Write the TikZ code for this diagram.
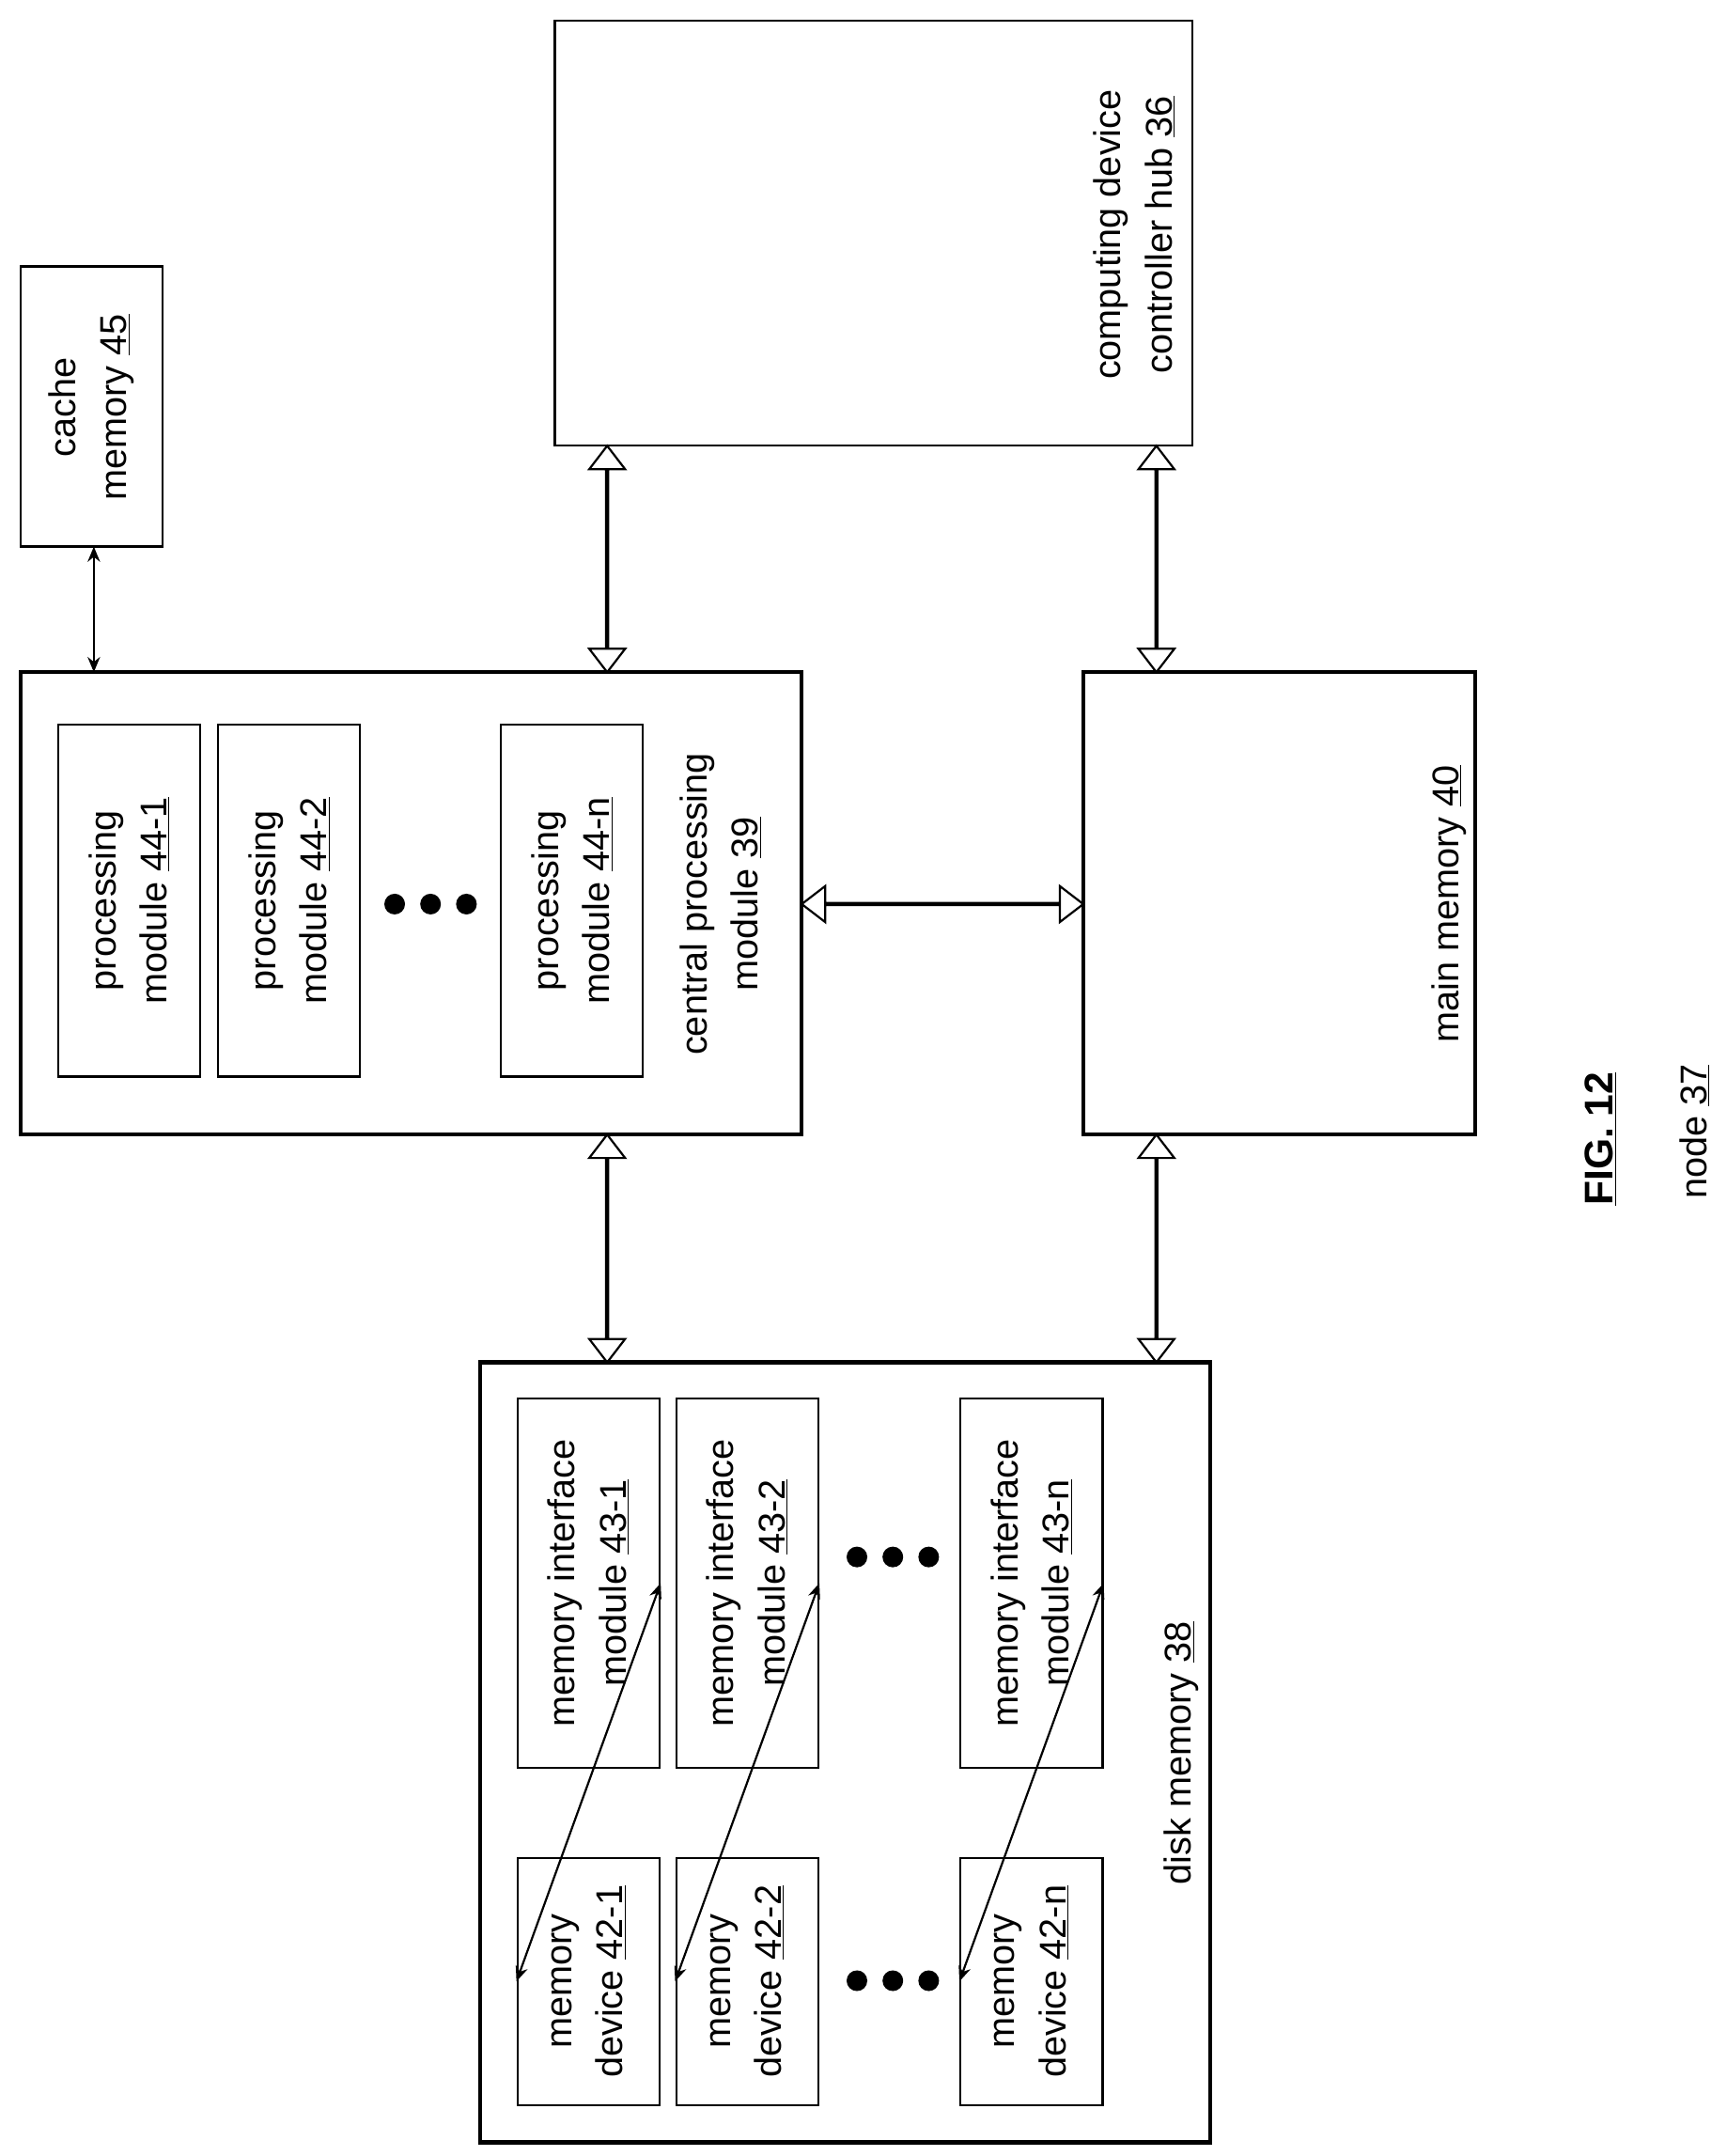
\documentclass[tikz,border=0pt]{standalone}
\usepackage{fontspec}
\setmainfont{Liberation Sans}
\usetikzlibrary{shapes.arrows,arrows.meta}
\begin{document}
\begin{tikzpicture}[x=1pt,y=-1pt,
  thin box/.style={draw,line width=1.5pt,inner sep=0pt},
  thick box/.style={draw,line width=3pt,inner sep=0pt},
  lbl/.style={rotate=90,align=center,font=\fontsize{27}{37}\selectfont},
  big/.style={double arrow,draw,line width=1.5pt,minimum width=26pt,double arrow head extend=12pt,double arrow tip angle=75,inner sep=0pt},
  small/.style={{Stealth[length=11pt,width=9pt]}-{Stealth[length=11pt,width=9pt]},line width=1.5pt},
  dot/.style={circle,fill,inner sep=0pt,minimum size=15pt}]
\useasboundingbox (0,0) rectangle (1251,1562);
\newcommand\bx[6]{\node[#1,minimum width={#4-#2},minimum height={#5-#3}] (#6) at ({(#2+#4)/2},{(#3+#5)/2}) {};}
% boxes
\bx{thin box}{15}{193}{118}{396}{cache}
\node[lbl] at (66,295) {cache\\memory \underline{45}};
\bx{thin box}{402}{15}{864}{323}{hub}
\node[lbl] at (822,170) {computing device\\controller hub \underline{36}};
\bx{thick box}{15}{487}{581}{822}{cpu}
\node[lbl] at (522,655) {central processing\\module \underline{39}};
\bx{thin box}{42}{525}{145}{780}{p1}
\bx{thin box}{158}{525}{261}{780}{p2}
\bx{thin box}{363}{525}{466}{780}{pn}
\node[lbl] at (p1) {processing\\module \underline{44-1}};
\node[lbl] at (p2) {processing\\module \underline{44-2}};
\node[lbl] at (pn) {processing\\module \underline{44-n}};
\node[dot] (d1) at (286,655) {}; \node[dot] (d2) at (312,655) {}; \node[dot] (d3) at (338,655) {};
\bx{thick box}{785}{487}{1069}{822}{main}
\node[lbl] at (1050,655) {main memory \underline{40}};
\bx{thick box}{348}{987}{877}{1552}{disk}
\node[lbl] at (856,1270) {disk memory \underline{38}};
\bx{thin box}{375}{1013}{478}{1281}{m1}
\bx{thin box}{490}{1013}{593}{1281}{m2}
\bx{thin box}{696}{1013}{799}{1281}{mn}
\bx{thin box}{375}{1346}{478}{1525}{v1}
\bx{thin box}{490}{1346}{593}{1525}{v2}
\bx{thin box}{696}{1346}{799}{1525}{vn}
\node[lbl] at (m1) {memory interface\\module \underline{43-1}};
\node[lbl] at (m2) {memory interface\\module \underline{43-2}};
\node[lbl] at (mn) {memory interface\\module \underline{43-n}};
\node[lbl] at (v1) {memory\\device \underline{42-1}};
\node[lbl] at (v2) {memory\\device \underline{42-2}};
\node[lbl] at (vn) {memory\\device \underline{42-n}};
\foreach \x/\n in {621/a,647/b,673/c}{
  \node[dot] (e\n) at (\x,1128) {}; \node[dot] (f\n) at (\x,1435) {};}
% small arrows
\draw[small] (68,396) -- (68,487);
\draw[small] (m1.east) -- (v1.west);
\draw[small] (m2.east) -- (v2.west);
\draw[small] (mn.east) -- (vn.west);
% big arrows
\node[big,rotate=90,minimum height=164pt] at (440,405) {};
\node[big,rotate=90,minimum height=164pt] at (838,405) {};
\node[big,minimum height=204pt] at (683,655) {};
\node[big,rotate=90,minimum height=165pt] at (440,904.5) {};
\node[big,rotate=90,minimum height=165pt] at (838,904.5) {};
% caption
\node[lbl,font=\fontsize{29}{37}\selectfont\bfseries] at (1160,825) {\underline{FIG. 12}};
\node[lbl] at (1228,820) {node \underline{37}};
\end{tikzpicture}
\end{document}
